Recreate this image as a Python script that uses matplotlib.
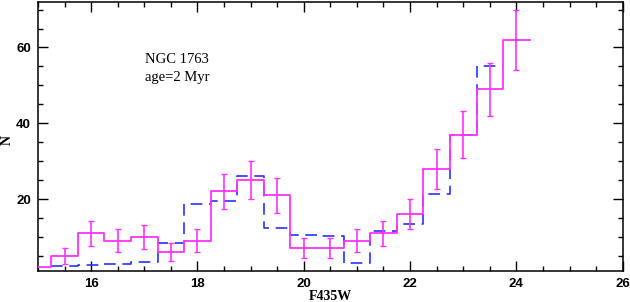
import matplotlib
matplotlib.use("Agg")
import matplotlib.pyplot as plt
import numpy as np
from matplotlib.ticker import MultipleLocator

# bin centres (width 0.5)
obs_centers = [15.0, 15.5, 16.0, 16.5, 17.0, 17.5, 18.0, 18.5, 19.0, 19.5, 20.0,
               20.5, 21.0, 21.5, 22.0, 22.5, 23.0, 23.5, 24.0]
obs_counts = [2, 5, 11, 9, 10, 6, 9, 22, 25, 21, 7, 7, 9, 11, 16, 28, 37, 49, 62]
obs_errors = [0.0, 2.2, 3.3, 3.0, 3.2, 2.4, 3.0, 4.7, 5.0, 4.6, 2.6, 2.6, 3.0, 3.3,
              4.0, 5.3, 6.1, 7.0, 7.9]

model_centers = [15.5, 16.0, 16.5, 17.0, 17.5, 18.0, 18.5, 19.0, 19.5, 20.0, 20.5,
                 21.0, 21.5, 22.0, 22.5, 23.0, 23.5]
model_counts = [2.2, 2.5, 2.8, 3.3, 8.5, 18.8, 19.5, 26, 12.4, 10.5, 10.2, 3.2, 11.6,
                13.4, 21.2, 37, 55.2]

label_text = ["NGC 1763", "age=2 Myr"]
xlabel = "F435W"
ylabel = "N"
bin_width = 0.5

fig = plt.figure(figsize=(6.30, 3.02), dpi=100)
ax = fig.add_axes([0.0602, 0.1026, 0.9282, 0.8908])

def step_xy(centers, counts):
    c = np.asarray(centers, float)
    v = np.asarray(counts, float)
    edges = np.concatenate([c - bin_width / 2, [c[-1] + bin_width / 2]])
    xs = np.repeat(edges, 2)[1:-1]
    ys = np.repeat(v, 2)
    return xs, ys

mx, my = step_xy(model_centers, model_counts)
ax.plot(mx, my, color=(0.15, 0.2, 1.0), lw=1.2, dashes=(7, 4), zorder=2)

ox, oy = step_xy(obs_centers, obs_counts)
ax.plot(ox, oy, color="#ff33ff", lw=1.3, zorder=3)

ec = [c for c, e in zip(obs_centers, obs_errors) if e > 0]
ev = [v for v, e in zip(obs_counts, obs_errors) if e > 0]
ee = [e for e in obs_errors if e > 0]
ax.errorbar(ec, ev, yerr=ee, fmt="none", ecolor="#ff33ff", elinewidth=1.2,
            capsize=2.5, capthick=1.0, zorder=3)

ax.set_xlim(15, 26)
ax.set_ylim(1, 72)
ax.xaxis.set_major_locator(MultipleLocator(2))
ax.xaxis.set_minor_locator(MultipleLocator(0.5))
ax.yaxis.set_major_locator(MultipleLocator(20))
ax.yaxis.set_minor_locator(MultipleLocator(5))
ax.tick_params(which="both", direction="in", top=True, right=True, width=1.0,
               labelsize=9.5, pad=5, colors="black")
ax.tick_params(which="major", length=7)
ax.tick_params(which="minor", length=3.5)
for lab in ax.get_xticklabels() + ax.get_yticklabels():
    lab.set_fontfamily("Liberation Sans")
    lab.set_fontweight("bold")
for s in ax.spines.values():
    s.set_linewidth(1.1)

fig.text(330 / 630, 1 - 296 / 302, xlabel, fontfamily="Liberation Serif",
         fontweight="bold", fontsize=10, ha="center", va="center")
fig.text(7 / 630, 1 - 140 / 302, ylabel, fontfamily="Liberation Serif",
         fontweight="bold", fontsize=10, ha="center", va="center", rotation=90)

ax.text(17.02, 56.8, label_text[0], fontfamily="Liberation Serif",
        fontsize=10.5, va="center", ha="left")
ax.text(17.02, 52.1, label_text[1], fontfamily="Liberation Serif",
        fontsize=10.5, va="center", ha="left")

fig.savefig("out.png", dpi=100)
